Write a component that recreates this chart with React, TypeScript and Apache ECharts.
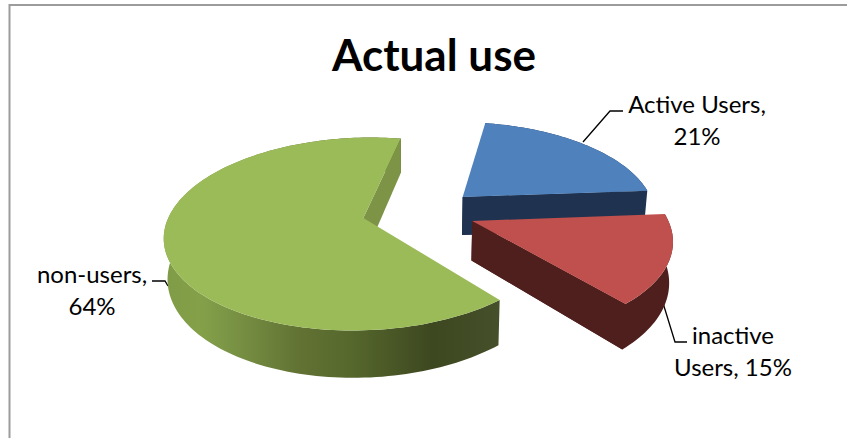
import React, { useEffect, useRef } from "react";
import * as echarts from "echarts";

const chartTitle = "Actual use";
const sliceNames = ["Active Users", "inactive Users", "non-users"];
const sliceValues = [21, 15, 64];
const labelTemplates = ["Active Users,\n{v}%", "inactive\nUsers, {v}%", "non-users,\n{v}%"];

const topColors = ["#4f81bd", "#c0504d", "#9bbb59"];
const wallColors = ["#1f3350", "#4f1f1d", "#7d9446"];

// Projection of the tilted pie onto the page
const VIEW = { x0: 418, y0: 211.9, rx: 193, ry: 91.8, persp: 0.165, depth: 39, taper: 0.985 };
const START_DEG = -79.8;
const explodeU = [0.32, 0.3, 0.29];
const explodeV = [0.25, 0.25, 0.25];

const LABEL_FONT = "24px Lato, Carlito, sans-serif";
const labelAnchors = [
  { x: 697, y: 119 },
  { x: 733, y: 350 },
  { x: 92, y: 289 },
];
const leaderLines = [
  [[583, 142], [610, 111], [623, 111]],
  [[663, 303], [675, 342], [687, 342]],
  [[152, 281], [165, 281], [168, 286]],
];

const total = sliceValues.reduce((a, b) => a + b, 0);
const rad = (d: number) => (d * Math.PI) / 180;

function project(u: number, v: number, lower: boolean): number[] {
  const s = 1 / (1 - VIEW.persp * v);
  const t = lower ? VIEW.taper : 1;
  return [VIEW.x0 + VIEW.rx * u * s * t, VIEW.y0 + VIEW.ry * v * s + (lower ? VIEW.depth * s : 0)];
}

function renderSlice(params: any, api: any) {
  const i = params.dataIndex;
  const value = api.value(0);
  const before = sliceValues.slice(0, i).reduce((a, b) => a + b, 0);
  const a0 = START_DEG + (before / total) * 360;
  const a1 = a0 + (value / total) * 360;
  const mid = rad((a0 + a1) / 2);
  const cu = explodeU[i] * Math.cos(mid);
  const cv = explodeV[i] * Math.sin(mid);

  const arcAt = (lower: boolean) => {
    const pts: number[][] = [];
    for (let a = a0; a <= a1 + 0.001; a += 1.5) {
      pts.push(project(cu + Math.cos(rad(a)), cv + Math.sin(rad(a)), lower));
    }
    pts.push(project(cu + Math.cos(rad(a1)), cv + Math.sin(rad(a1)), lower));
    return pts;
  };
  const upper = arcAt(false);
  const lowerArc = arcAt(true);
  const apexTop = project(cu, cv, false);
  const apexLow = project(cu, cv, true);
  const n = upper.length - 1;

  const radialWall = {
    type: "polygon",
    shape: { points: [upper[n], apexTop, apexLow, lowerArc[n]] },
    style: { fill: wallColors[i] },
  };
  const topFace = {
    type: "polygon",
    shape: { points: [apexTop, ...upper] },
    style: { fill: topColors[i] },
  };

  // Blue and red have one flat side colour: the rim and the radial wall share an outline,
  // which leaves no seam at the slice's front corner
  if (i < 2) {
    return {
      type: "group",
      children: [
        radialWall,
        {
          type: "polygon",
          shape: { points: [apexLow, ...lowerArc.slice().reverse(), ...upper, apexTop] },
          style: { fill: wallColors[i] },
        },
        topFace,
      ],
    };
  }

  const rimFill = new echarts.graphic.LinearGradient(
    163, 0, 497, 0,
    [
      { offset: 0, color: "#7f9b46" },
      { offset: 0.11, color: "#84a149" },
      { offset: 0.2, color: "#7a9445" },
      { offset: 0.41, color: "#617233" },
      { offset: 0.56, color: "#56682c" },
      { offset: 0.81, color: "#3d4720" },
      { offset: 1, color: "#45502a" },
    ],
    true
  );

  // Green: the rim is painted first, the notch wall over it, the top face last
  return {
    type: "group",
    children: [
      {
        type: "polygon",
        shape: { points: [...upper, ...lowerArc.slice().reverse()] },
        style: { fill: rimFill },
      },
      radialWall,
      topFace,
    ],
  };
}

export default function App() {
  const ref = useRef<HTMLDivElement>(null);
  useEffect(() => {
    const chart = echarts.init(ref.current as HTMLDivElement, undefined, { renderer: "svg" });
    chart.setOption({
      animation: false,
      backgroundColor: "#ffffff",
      title: {
        text: chartTitle,
        left: 429,
        top: 27,
        textAlign: "center",
        textStyle: { fontFamily: "Lato, Carlito, sans-serif", fontWeight: "bold", fontSize: 44, color: "#000000" },
      },
      series: [
        {
          type: "custom",
          coordinateSystem: "none",
          name: chartTitle,
          data: sliceValues.map((v, i) => ({ name: sliceNames[i], value: [v] })),
          renderItem: renderSlice,
          silent: true,
        },
      ],
      graphic: [
        {
          type: "polyline",
          shape: { points: [[9.5, 438], [9.5, 5], [847, 5]] },
          style: { stroke: "#9c9c9c", lineWidth: 2, fill: "none" },
        },
        ...leaderLines.map((points) => ({
          type: "polyline",
          shape: { points },
          style: { stroke: "#000000", lineWidth: 1.3, fill: "none" },
        })),
        ...labelTemplates.map((tpl, i) => ({
          type: "text",
          x: labelAnchors[i].x,
          y: labelAnchors[i].y,
          style: {
            text: tpl.replace("{v}", String(sliceValues[i])),
            font: LABEL_FONT,
            fill: "#000000",
            align: "center",
            verticalAlign: "middle",
            lineHeight: 32,
          },
        })),
      ],
    });
    return () => chart.dispose();
  }, []);
  return <div ref={ref} style={{ position: "absolute", left: 0, top: 0, width: 847, height: 438 }} />;
}
